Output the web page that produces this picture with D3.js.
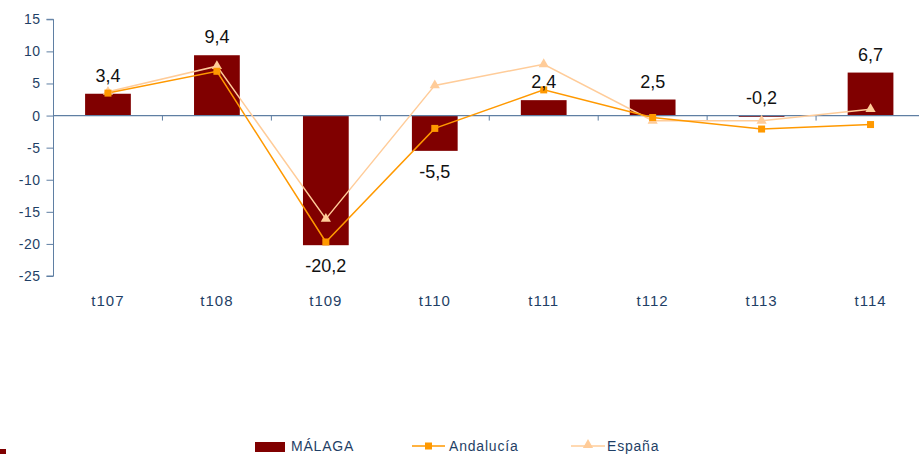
<!DOCTYPE html>
<html>
<head>
<meta charset="utf-8">
<script src="https://cdn.jsdelivr.net/npm/d3@7"></script>
<style>
  body { margin: 0; background: #fff; }
  svg { display: block; font-family: "Liberation Sans", Arial, sans-serif; }
</style>
</head>
<body>
<div id="chart"></div>
<script>
// data
var categories = ["t107", "t108", "t109", "t110", "t111", "t112", "t113", "t114"];
var malaga     = [3.4, 9.4, -20.2, -5.5, 2.4, 2.5, -0.2, 6.7];
var andalucia  = [3.5, 6.9, -19.7, -2.0, 4.0, -0.3, -2.1, -1.4];
var espana     = [3.7, 7.7, -16.1, 4.7, 8.0, -0.8, -0.8, 1.0];
var yTicks     = [15, 10, 5, 0, -5, -10, -15, -20, -25];

var width = 919, height = 454;
var textColor = "#1f3f66", axisColor = "#5f7fa3";

var svg = d3.select("#chart")
  .append("svg")
    .attr("width", width)
    .attr("height", height);

// scales
var x = d3.scaleBand()
  .domain(categories)
  .range([53.5, 925])
  .paddingInner(0.58)
  .paddingOuter(0.29);
var y = d3.scaleLinear()
  .domain([-25, 15])
  .range([276, 19.3]);

// comma decimals and plain hyphen for negatives
var fmt = function(v) { return d3.format(".1f")(v).replace(".", ",").replace("\u2212", "-"); };

// bars
svg.append("g")
  .selectAll("rect")
  .data(malaga)
  .enter()
  .append("rect")
    .attr("x", function(d, i) { return x(categories[i]); })
    .attr("y", function(d) { return y(Math.max(0, d)); })
    .attr("width", x.bandwidth())
    .attr("height", function(d) { return Math.abs(y(d) - y(0)); })
    .attr("fill", "#800000");

// Y axis
var yAxis = svg.append("g")
  .attr("transform", "translate(53.5,0)")
  .call(d3.axisLeft(y).tickValues(yTicks).tickSize(7).tickPadding(6)
    .tickFormat(function(d) { return String(d); }));
yAxis.select(".domain").attr("stroke", axisColor).attr("d", "M-7," + y(15) + "H0V" + y(-25) + "H-7");
yAxis.selectAll(".tick line").attr("stroke", axisColor);
yAxis.selectAll(".tick text")
  .attr("fill", textColor)
  .style("font-size", "14px")
  .style("letter-spacing", "0.5px");

// X axis line at zero, with ticks between categories
var xg = svg.append("g");
xg.append("line")
  .attr("x1", 53.5).attr("x2", width)
  .attr("y1", y(0)).attr("y2", y(0))
  .attr("stroke", axisColor).attr("stroke-width", 1.2);
var step = x.step();
xg.selectAll(".xt")
  .data(categories.slice(1))
  .enter()
  .append("line")
    .attr("x1", function(d) { return x(d) - x.paddingInner() * step / 2; })
    .attr("x2", function(d) { return x(d) - x.paddingInner() * step / 2; })
    .attr("y1", y(0)).attr("y2", y(0) + 5)
    .attr("stroke", axisColor);

// category labels
svg.append("g")
  .selectAll("text")
  .data(categories)
  .enter()
  .append("text")
    .attr("x", function(d) { return x(d) + x.bandwidth() / 2; })
    .attr("y", 306)
    .attr("text-anchor", "middle")
    .attr("fill", textColor)
    .style("font-size", "15px")
    .style("letter-spacing", "1px")
    .text(function(d) { return d; });

// lines
var line = d3.line()
  .x(function(d, i) { return x(categories[i]) + x.bandwidth() / 2; })
  .y(function(d) { return y(d); });

svg.append("path")
  .datum(espana)
  .attr("fill", "none")
  .attr("stroke", "#ffcc99")
  .attr("stroke-width", 1.5)
  .attr("d", line);
svg.append("path")
  .datum(andalucia)
  .attr("fill", "none")
  .attr("stroke", "#ff9900")
  .attr("stroke-width", 1.5)
  .attr("d", line);

var tri = d3.symbol().type(d3.symbolTriangle).size(45);
svg.append("g")
  .selectAll("path")
  .data(espana)
  .enter()
  .append("path")
    .attr("d", tri)
    .attr("transform", function(d, i) { return "translate(" + (x(categories[i]) + x.bandwidth() / 2) + "," + y(d) + ")"; })
    .attr("fill", "#ffcc99");
svg.append("g")
  .selectAll("rect")
  .data(andalucia)
  .enter()
  .append("rect")
    .attr("x", function(d, i) { return x(categories[i]) + x.bandwidth() / 2 - 3.5; })
    .attr("y", function(d) { return y(d) - 3.5; })
    .attr("width", 7)
    .attr("height", 7)
    .attr("fill", "#ff9900");

// data labels for bars
svg.append("g")
  .selectAll("text")
  .data(malaga)
  .enter()
  .append("text")
    .attr("x", function(d, i) { return x(categories[i]) + x.bandwidth() / 2; })
    .attr("y", function(d) { return d > -1 ? y(Math.max(d, 0)) - 12 : y(d) + 27; })
    .attr("text-anchor", "middle")
    .attr("fill", "#111")
    .style("font-size", "18px")
    .text(function(d) { return fmt(d); });

// legend
var legend = svg.append("g").style("font-size", "14px").style("letter-spacing", "0.8px");
legend.append("rect")
  .attr("x", 255).attr("y", 442).attr("width", 30).attr("height", 10)
  .attr("fill", "#800000");
legend.append("text").attr("x", 291).attr("y", 451).attr("fill", textColor).text("MÁLAGA");

legend.append("line").attr("x1", 412).attr("x2", 445).attr("y1", 446).attr("y2", 446)
  .attr("stroke", "#ff9900").attr("stroke-width", 1.5);
legend.append("rect").attr("x", 425).attr("y", 442.5).attr("width", 7).attr("height", 7).attr("fill", "#ff9900");
legend.append("text").attr("x", 449).attr("y", 451).attr("fill", textColor).text("Andalucía");

legend.append("line").attr("x1", 571).attr("x2", 605).attr("y1", 446).attr("y2", 446)
  .attr("stroke", "#ffcc99").attr("stroke-width", 1.5);
legend.append("path").attr("d", tri).attr("transform", "translate(588,445)").attr("fill", "#ffcc99");
legend.append("text").attr("x", 607).attr("y", 451).attr("fill", textColor).text("España");

// small mark at the bottom left corner
svg.append("rect").attr("x", 0).attr("y", 449).attr("width", 6).attr("height", 5).attr("fill", "#800000");
</script>
</body>
</html>
